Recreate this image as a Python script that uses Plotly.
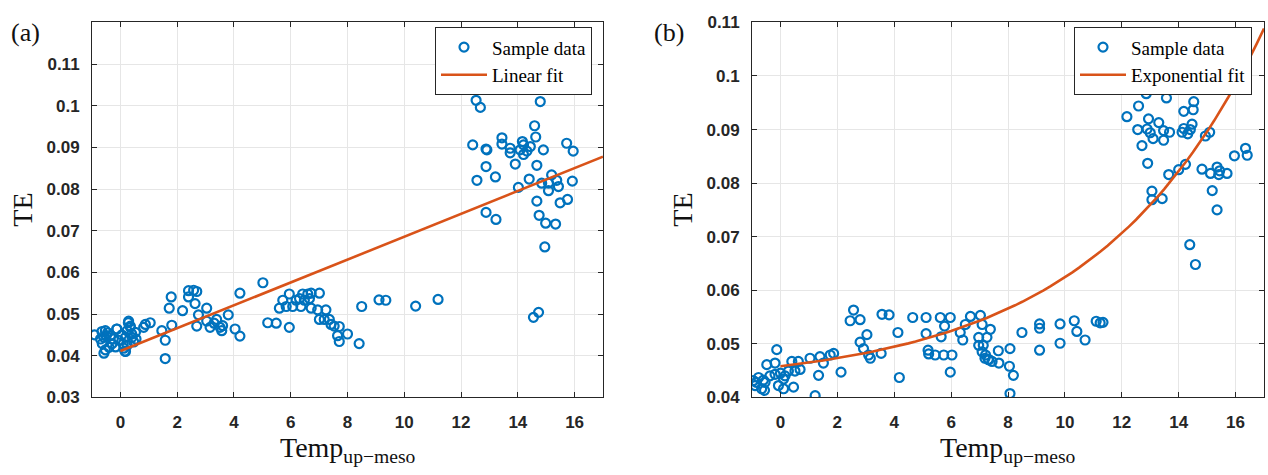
import math
import plotly.graph_objects as go

# ---------------- data ----------------
# Panel (a)
a_x = [-0.91, -0.53, -0.58, -0.64, -0.53, -0.58, -0.35, -0.29, -0.12, -0.17, -0.06, 0.12, 0.18, 0.24,
       0.29, 0.35, 0.24, 0.41, 0.47, 0.18, 0.53, 0.82, 0.88, 1.05,
       -0.65, -0.50, -0.13, 0.28, 0.35, 0.16, -0.45, -0.70, -0.40, 0.05, 0.40, 0.10, -0.25, 0.55,
       1.46, 1.58, 1.58, 1.81, 1.79, 1.72, 2.19, 2.40, 2.58, 2.69, 2.40, 2.63, 3.04, 2.75, 2.69,
       3.04, 3.16, 3.39, 3.51, 3.57, 3.80, 4.04, 4.21, 4.21, 5.02, 3.30, 3.60,
       5.19, 5.49, 5.95, 5.60, 5.72, 5.95, 5.84, 6.07, 6.19, 6.42, 6.60, 6.72, 6.31, 6.48, 6.66,
       6.36, 6.72, 7.01, 6.95, 7.01, 7.24, 7.18, 7.36, 7.42, 7.53, 7.71, 7.65, 7.71, 8.00, 8.41,
       8.50, 9.11, 9.35, 10.40, 11.19,
       12.53, 12.68, 14.79, 14.59, 14.63, 13.44, 13.44, 12.41, 12.88, 12.91, 13.73, 13.73, 14.16,
       14.20, 14.08, 14.32, 14.44, 14.20, 14.90, 15.72, 15.95, 13.91, 14.67, 12.88, 12.56, 13.21,
       14.40, 15.19, 14.84, 15.08, 15.37, 15.43, 15.92, 14.02, 15.08, 14.67, 15.49, 15.75, 12.88,
       13.23, 14.75, 14.98, 15.33, 14.95, 14.55, 14.73]
a_y = [0.0450, 0.0460, 0.0444, 0.0429, 0.0414, 0.0406, 0.0448, 0.0429, 0.0464, 0.0421, 0.0437, 0.0418,
       0.0444, 0.0460, 0.0483, 0.0468, 0.0425, 0.0444, 0.0433, 0.0410, 0.0456, 0.0468, 0.0475, 0.0479,
       0.0458, 0.0448, 0.0464, 0.0479, 0.0471, 0.0411, 0.0455, 0.0440, 0.0420, 0.0450, 0.0452, 0.0428,
       0.0440, 0.0440,
       0.0460, 0.0437, 0.0393, 0.0473, 0.0541, 0.0514, 0.0508, 0.0556, 0.0557, 0.0554, 0.0541, 0.0525,
       0.0514, 0.0498, 0.0471, 0.0483, 0.0468, 0.0487, 0.0468, 0.0460, 0.0498, 0.0464, 0.0447, 0.0550,
       0.0575, 0.0478, 0.0472,
       0.0479, 0.0478, 0.0468, 0.0514, 0.0533, 0.0548, 0.0518, 0.0518, 0.0533, 0.0548, 0.0548, 0.0550,
       0.0537, 0.0533, 0.0537, 0.0518, 0.0514, 0.0550, 0.0510, 0.0487, 0.0510, 0.0487, 0.0487, 0.0475,
       0.0471, 0.0470, 0.0448, 0.0434, 0.0452, 0.0429, 0.0518, 0.0534, 0.0533, 0.0519, 0.0535,
       0.1013, 0.0996, 0.1010, 0.0952, 0.0925, 0.0923, 0.0908, 0.0906, 0.0896, 0.0894, 0.0898, 0.0887,
       0.0914, 0.0906, 0.0894, 0.0891, 0.0902, 0.0883, 0.0894, 0.0910, 0.0891, 0.0860, 0.0857, 0.0854,
       0.0821, 0.0829, 0.0824, 0.0834, 0.0814, 0.0814, 0.0821, 0.0806, 0.0819, 0.0804, 0.0796, 0.0771,
       0.0767, 0.0775, 0.0744, 0.0727, 0.0737, 0.0718, 0.0716, 0.0661, 0.0492, 0.0504]

# Panel (b)
b_x = [-0.95, -0.89, -0.77, -0.66, -0.54, -0.56, -0.48, -0.37, -0.19, -0.13, -0.19, -0.07, 0.11, 0.11,
       0.16, 0.46, 0.28, 0.40, 0.51, 0.63, 0.69, 1.04, 1.34, 1.39, 1.51, 1.75, 1.87, 1.22, 2.13,
       -0.85, -0.60, 0.00,
       2.45, 2.57, 2.80, 3.04, 2.80, 2.92, 3.10, 3.16, 3.54, 3.57, 3.82, 4.13, 4.18, 4.65, 5.12, 5.12,
       5.19, 5.21, 5.44, 5.62, 5.77, 5.65, 5.74, 5.97, 6.03, 5.97,
       6.32, 6.41, 6.50, 6.68, 7.03, 7.09, 7.38, 6.97, 7.26, 6.97, 7.09, 7.21, 7.32, 7.44, 7.68,
       7.13, 7.19, 7.31, 7.66,
       8.07, 8.05, 8.19, 8.07, 8.49, 9.11, 9.11, 9.11, 9.83, 9.83, 10.33, 10.42, 10.71, 11.10, 11.24,
       11.34,
       14.39, 14.59,
       12.86, 12.59, 13.57, 12.18, 12.94, 13.30, 12.56, 12.89, 13.00, 13.47, 13.68, 13.10, 13.47,
       12.71, 14.53, 14.51, 14.18, 14.47, 14.18, 14.12, 14.32, 14.41, 14.94, 15.09, 12.91, 13.65,
       14.00, 14.24, 14.82, 15.12, 15.35, 15.44, 15.41, 15.70, 15.96, 16.35, 16.41, 15.18, 15.35,
       13.06, 13.06, 13.42]
b_y = [0.0431, 0.0422, 0.0437, 0.0416, 0.0428, 0.0413, 0.0461, 0.0440, 0.0464, 0.0489, 0.0443, 0.0422,
       0.0434, 0.0416, 0.0440, 0.0419, 0.0449, 0.0467, 0.0449, 0.0467, 0.0452, 0.0473, 0.0441, 0.0476,
       0.0464, 0.0479, 0.0482, 0.0403, 0.0447,
       0.0428, 0.0432, 0.0445,
       0.0543, 0.0563, 0.0545, 0.0517, 0.0503, 0.0491, 0.0479, 0.0473, 0.0482, 0.0555, 0.0554, 0.0521,
       0.0437, 0.0549, 0.0549, 0.0519, 0.0488, 0.0481, 0.0479, 0.0549, 0.0533, 0.0513, 0.0479, 0.0549,
       0.0479, 0.0447,
       0.0521, 0.0507, 0.0536, 0.0551, 0.0553, 0.0536, 0.0527, 0.0512, 0.0512, 0.0497, 0.0485, 0.0479,
       0.0470, 0.0467, 0.0464, 0.0497, 0.0473, 0.0471, 0.0487,
       0.0491, 0.0458, 0.0441, 0.0407, 0.0521, 0.0537, 0.0529, 0.0488, 0.0537, 0.0501, 0.0543, 0.0523,
       0.0507, 0.0542, 0.0539, 0.0540,
       0.0685, 0.0648,
       0.0967, 0.0944, 0.0959, 0.0924, 0.0920, 0.0913, 0.0900, 0.0901, 0.0894, 0.0898, 0.0895, 0.0883,
       0.0880, 0.0870, 0.0952, 0.0937, 0.0934, 0.0910, 0.0902, 0.0895, 0.0892, 0.0900, 0.0888, 0.0895,
       0.0837, 0.0816, 0.0825, 0.0835, 0.0826, 0.0818, 0.0830, 0.0823, 0.0816, 0.0818, 0.0851, 0.0865,
       0.0852, 0.0786, 0.0750, 0.0785, 0.0769, 0.0771]

# Fit models (coefficients)
lin_intercept, lin_slope = 0.0411, 0.002745          # TE = c0 + c1*T
exp_a, exp_b, exp_c = 0.0421, 0.00371, 0.17           # TE = a + b*exp(c*T)
fit_T = [i * 0.25 for i in range(0, 69)]              # 0 .. 17

x_tick_vals = [0, 2, 4, 6, 8, 10, 12, 14, 16]
x_tick_text = ["0", "2", "4", "6", "8", "10", "12", "14", "16"]
ya_tick_vals = [0.03, 0.04, 0.05, 0.06, 0.07, 0.08, 0.09, 0.10, 0.11]
ya_tick_text = ["0.03", "0.04", "0.05", "0.06", "0.07", "0.08", "0.09", "0.1", "0.11"]
yb_tick_vals = [0.04, 0.05, 0.06, 0.07, 0.08, 0.09, 0.10, 0.11]
yb_tick_text = ["0.04", "0.05", "0.06", "0.07", "0.08", "0.09", "0.1", "0.11"]

lin_fit = [lin_intercept + lin_slope * t for t in fit_T]
exp_fit = [exp_a + exp_b * math.exp(exp_c * t) for t in fit_T]

# ---------------- figure ----------------
W, H = 1268, 475
BLUE = "#0072BD"
ORANGE = "#D95319"
AX = "#262626"
SERIF = "Liberation Serif, Times New Roman, serif"
SANS = "Liberation Sans, Arial, sans-serif"

marker_style = dict(symbol="circle-open", size=9, color=BLUE, line=dict(width=2.2, color=BLUE))

fig = go.Figure()
fig.add_trace(go.Scatter(x=a_x, y=a_y, mode="markers", name="Sample data", marker=marker_style,
                         xaxis="x", yaxis="y", legend="legend"))
fig.add_trace(go.Scatter(x=fit_T, y=lin_fit, mode="lines", name="Linear fit",
                         line=dict(color=ORANGE, width=2.6), xaxis="x", yaxis="y", legend="legend"))
fig.add_trace(go.Scatter(x=b_x, y=b_y, mode="markers", name="Sample data", marker=marker_style,
                         xaxis="x2", yaxis="y2", legend="legend2"))
fig.add_trace(go.Scatter(x=fit_T, y=exp_fit, mode="lines", name="Exponential fit",
                         line=dict(color=ORANGE, width=2.6), xaxis="x2", yaxis="y2", legend="legend2"))


def px_x(p):
    return p / W


def px_y(p):
    return 1 - p / H


common_axis = dict(showline=True, linecolor=AX, linewidth=1, mirror="ticks", ticks="inside",
                   ticklen=5, tickcolor=AX, showgrid=True, gridcolor="#e6e6e6", gridwidth=1,
                   zeroline=False, tickfont=dict(family=SANS, size=17, color=AX, weight="bold"))

legend_common = dict(xanchor="right", yanchor="top", bgcolor="white", bordercolor=AX, borderwidth=1,
                     itemwidth=46, font=dict(family=SERIF, size=19, color="black"))

fig.update_layout(
    width=W, height=H, margin=dict(l=0, r=0, t=0, b=0),
    paper_bgcolor="white", plot_bgcolor="white",
    xaxis=dict(domain=[px_x(92), px_x(603)], range=[-1, 17], tickvals=x_tick_vals, ticktext=x_tick_text,
               anchor="y", ticklabelstandoff=9, **common_axis),
    yaxis=dict(domain=[px_y(404.5), px_y(14)], range=[0.03, 0.12], tickvals=ya_tick_vals,
               ticktext=ya_tick_text, anchor="x", ticklabelstandoff=8, **common_axis),
    xaxis2=dict(domain=[px_x(752), px_x(1264)], range=[-1, 17], tickvals=x_tick_vals, ticktext=x_tick_text,
                anchor="y2", ticklabelstandoff=9, **common_axis),
    yaxis2=dict(domain=[px_y(404.5), px_y(14)], range=[0.04, 0.11], tickvals=yb_tick_vals,
                ticktext=yb_tick_text, anchor="x2", ticklabelstandoff=8, **common_axis),
    legend=dict(x=px_x(592), y=px_y(19), **legend_common),
    legend2=dict(x=px_x(1252), y=px_y(19), **legend_common),
    showlegend=True,
)

ann_font = dict(family=SERIF, size=28, color="#111111")
annotations = [
    dict(text="(a)", x=px_x(25), y=px_y(25), yanchor="middle", font=dict(family=SERIF, size=26, color="#111111")),
    dict(text="(b)", x=px_x(669), y=px_y(25), yanchor="middle", font=dict(family=SERIF, size=26, color="#111111")),
    dict(text="TE", x=px_x(23), y=px_y(209), yanchor="middle", textangle=-90, font=ann_font),
    dict(text="TE", x=px_x(683), y=px_y(209), yanchor="middle", textangle=-90, font=ann_font),
    dict(text="Temp<sub>up\u2212meso</sub>", x=px_x(348), y=px_y(474), yanchor="bottom", yshift=-5,
         font=ann_font),
    dict(text="Temp<sub>up\u2212meso</sub>", x=px_x(1008), y=px_y(474), yanchor="bottom", yshift=-5,
         font=ann_font),
]
for a in annotations:
    a.update(xref="paper", yref="paper", showarrow=False, xanchor="center")
fig.update_layout(annotations=annotations)

fig.write_html("out.html")
